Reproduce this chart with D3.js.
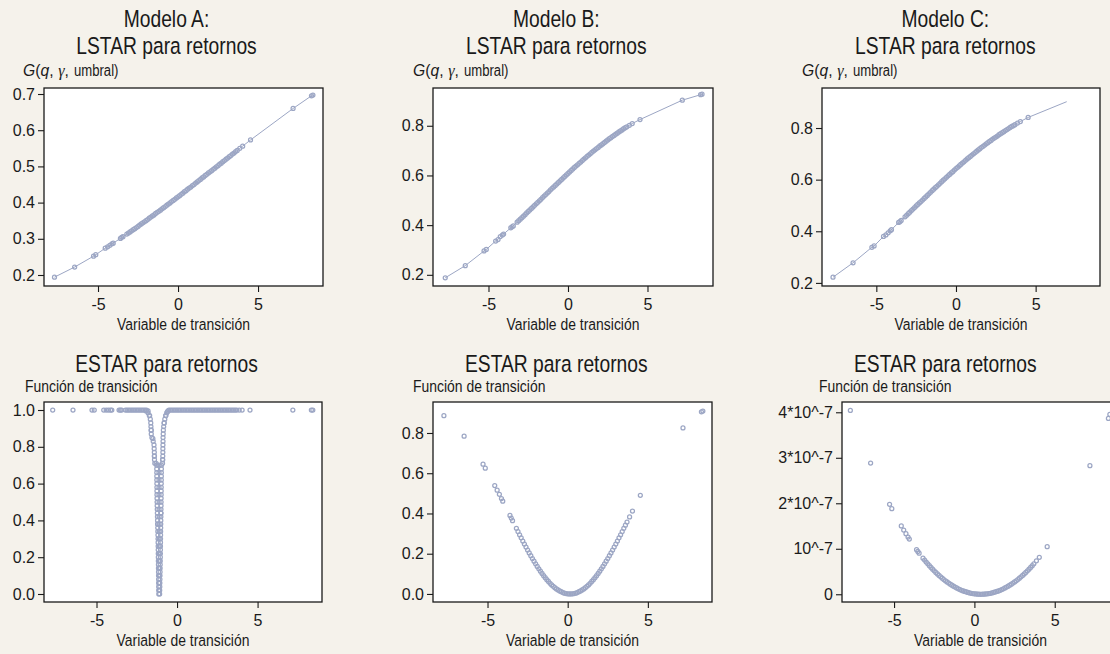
<!DOCTYPE html>
<html>
<head>
<meta charset="utf-8">
<script src="https://cdn.jsdelivr.net/npm/d3@7"></script>
<style>
  html, body { margin: 0; padding: 0; background: #f5f2eb; }
  svg { display: block; }
</style>
</head>
<body>
<div id="grafico"></div>
<script>
// Variable de transición: observaciones comunes a los tres modelos
const transicion = [
  -7.72, -6.46, -5.28, -5.14, -4.55, -4.40, -4.26, -4.13, -4.05, -3.60, -3.52, -3.44,
  -3.2, -3.1, -3.0, -2.9, -2.8, -2.7, -2.6, -2.5, -2.4, -2.3,
  -2.2, -2.1, -2.0, -1.9, -1.8, -1.7, -1.6, -1.5, -1.4, -1.3,
  -1.2, -1.1, -1.0, -0.9, -0.8, -0.7, -0.6, -0.5, -0.4, -0.3,
  -0.2, -0.1, 0.0, 0.1, 0.2, 0.3, 0.4, 0.5, 0.6, 0.7,
  0.8, 0.9, 1.0, 1.1, 1.2, 1.3, 1.4, 1.5, 1.6, 1.7,
  1.8, 1.9, 2.0, 2.1, 2.2, 2.3, 2.4, 2.5, 2.6, 2.7,
  2.8, 2.9, 3.0, 3.1, 3.2, 3.3, 3.4, 3.5, 3.6, 3.7,
  3.86, 4.04, 4.53, 7.19, 8.34, 8.43
];

// LSTAR: G(q, gamma, umbral)
const lstarA = [
  0.194, 0.222, 0.252, 0.256, 0.274, 0.278, 0.282, 0.286, 0.288, 0.301, 0.304, 0.306,
  0.313, 0.316, 0.319, 0.322, 0.325, 0.328, 0.331, 0.334, 0.338, 0.341,
  0.344, 0.347, 0.350, 0.353, 0.357, 0.360, 0.363, 0.366, 0.370, 0.373,
  0.376, 0.379, 0.383, 0.386, 0.389, 0.393, 0.396, 0.399, 0.403, 0.406,
  0.409, 0.413, 0.416, 0.419, 0.423, 0.426, 0.430, 0.433, 0.437, 0.440,
  0.443, 0.447, 0.450, 0.454, 0.457, 0.461, 0.464, 0.468, 0.471, 0.475,
  0.478, 0.482, 0.485, 0.488, 0.492, 0.495, 0.499, 0.502, 0.506, 0.509,
  0.513, 0.516, 0.520, 0.523, 0.527, 0.530, 0.534, 0.537, 0.541, 0.544,
  0.550, 0.556, 0.573, 0.660, 0.695, 0.697
];
const lstarB = [
  0.188, 0.237, 0.296, 0.302, 0.336, 0.342, 0.354, 0.360, 0.364, 0.389, 0.393, 0.397,
  0.412, 0.418, 0.424, 0.430, 0.436, 0.442, 0.449, 0.455, 0.461, 0.467,
  0.473, 0.480, 0.486, 0.492, 0.498, 0.504, 0.511, 0.517, 0.523, 0.529,
  0.535, 0.542, 0.548, 0.554, 0.560, 0.566, 0.572, 0.578, 0.584, 0.590,
  0.596, 0.602, 0.608, 0.614, 0.620, 0.626, 0.632, 0.638, 0.643, 0.649,
  0.654, 0.660, 0.666, 0.671, 0.677, 0.682, 0.687, 0.693, 0.698, 0.703,
  0.708, 0.713, 0.719, 0.723, 0.728, 0.733, 0.738, 0.743, 0.748, 0.752,
  0.757, 0.761, 0.766, 0.770, 0.775, 0.779, 0.783, 0.788, 0.792, 0.796,
  0.802, 0.809, 0.825, 0.903, 0.925, 0.927
];
const lstarC = [
  0.222, 0.278, 0.338, 0.343, 0.380, 0.386, 0.394, 0.402, 0.406, 0.434, 0.437, 0.442,
  0.456, 0.462, 0.468, 0.474, 0.480, 0.486, 0.492, 0.498, 0.504, 0.510,
  0.515, 0.521, 0.527, 0.533, 0.539, 0.545, 0.551, 0.557, 0.563, 0.569,
  0.574, 0.580, 0.586, 0.592, 0.598, 0.603, 0.609, 0.615, 0.620, 0.626,
  0.631, 0.637, 0.643, 0.648, 0.653, 0.659, 0.664, 0.669, 0.675, 0.680,
  0.685, 0.690, 0.695, 0.700, 0.705, 0.710, 0.715, 0.720, 0.725, 0.729,
  0.734, 0.739, 0.743, 0.748, 0.752, 0.757, 0.761, 0.765, 0.769, 0.774,
  0.778, 0.782, 0.786, 0.790, 0.794, 0.798, 0.802, 0.806, 0.809, 0.813,
  0.819, 0.825, 0.841, null, null, null
];
// la línea del modelo C termina sin marcador
const finLineaC = [6.95, 0.902];

// ESTAR: función de transición
const estarA = [
  1, 1, 1, 1, 1, 1, 1, 1, 1, 1, 1, 1,
  1, 1, 1, 1, 1, 1, 1, 1, 1, 1,
  1, 1, 1, 0.999, 0.995, 0.97, 0.89, 0.845, 0.75, 0.71,
  0.38, 0.02, 0.44, 0.73, 0.93, 0.97, 0.99, 1, 1, 1,
  1, 1, 1, 1, 1, 1, 1, 1, 1, 1,
  1, 1, 1, 1, 1, 1, 1, 1, 1, 1,
  1, 1, 1, 1, 1, 1, 1, 1, 1, 1,
  1, 1, 1, 1, 1, 1, 1, 1, 1, 1,
  1, 1, 1, 1, 1, 1
];
// observaciones adicionales en la caída del modelo A: [valor, q izquierda, q centro, q derecha]
const caidaA = [
  [0.995, -1.92, null, -0.56], [0.985, -1.80, null, -0.64], [0.97, -1.72, null, -0.70],
  [0.95, -1.66, null, -0.76], [0.93, -1.63, null, -0.80], [0.91, -1.62, null, -0.83],
  [0.89, -1.61, null, -0.85], [0.87, -1.60, null, -0.86], [0.85, -1.56, null, -0.87],
  [0.83, -1.48, null, -0.87], [0.81, -1.43, null, -0.875], [0.79, -1.42, null, -0.88],
  [0.77, -1.41, null, -0.88], [0.75, -1.41, null, -0.885], [0.73, -1.40, null, -0.89],
  [0.71, -1.38, null, -0.90],
  [0.70, -1.26, -1.12, -0.97], [0.68, -1.26, null, -0.972], [0.66, -1.258, -1.12, -0.974],
  [0.64, -1.256, null, -0.976], [0.62, -1.254, -1.12, -0.978], [0.60, -1.252, null, -0.98],
  [0.58, -1.25, -1.12, -0.982], [0.56, -1.248, null, -0.984], [0.54, -1.246, -1.12, -0.986],
  [0.52, -1.243, null, -0.988], [0.50, -1.24, -1.115, -0.99], [0.48, -1.234, null, -0.993],
  [0.46, -1.228, -1.115, -0.997], [0.44, -1.222, null, -1.0], [0.42, -1.216, -1.11, -1.004],
  [0.40, -1.21, null, -1.008], [0.38, -1.204, -1.11, -1.011], [0.36, -1.198, null, -1.014],
  [0.34, -1.192, -1.105, -1.018], [0.32, -1.186, null, -1.021], [0.30, -1.18, -1.105, -1.024],
  [0.28, -1.176, null, -1.027], [0.26, -1.172, -1.10, -1.029], [0.24, -1.17, null, -1.03],
  [0.22, -1.166, -1.10, -1.034], [0.20, -1.163, null, -1.038], [0.18, -1.16, -1.10, -1.042],
  [0.16, -1.157, null, -1.046], [0.14, -1.154, -1.10, -1.05], [0.12, -1.151, null, -1.054],
  [0.10, -1.148, -1.10, -1.058], [0.08, -1.145, null, -1.062], [0.06, -1.142, -1.105, -1.066],
  [0.04, -1.139, null, -1.07], [0.02, -1.136, -1.105, -1.075], [0.00, -1.133, null, -1.08]
];
const estarB = [
  0.886, 0.784, 0.645, 0.625, 0.539, 0.516, 0.495, 0.474, 0.461, 0.390, 0.377, 0.364,
  0.326, 0.310, 0.294, 0.279, 0.263, 0.248, 0.233, 0.218, 0.204, 0.190,
  0.176, 0.163, 0.150, 0.137, 0.125, 0.113, 0.102, 0.091, 0.081, 0.071,
  0.062, 0.053, 0.045, 0.038, 0.031, 0.025, 0.020, 0.015, 0.011, 0.007,
  0.004, 0.002, 0.001, 0.000, 0.000, 0.001, 0.002, 0.004, 0.007, 0.011,
  0.015, 0.020, 0.025, 0.031, 0.038, 0.045, 0.053, 0.062, 0.071, 0.081,
  0.091, 0.102, 0.113, 0.125, 0.137, 0.150, 0.163, 0.176, 0.190, 0.204,
  0.218, 0.233, 0.248, 0.263, 0.279, 0.294, 0.310, 0.326, 0.342, 0.357,
  0.383, 0.412, 0.490, 0.825, 0.905, 0.909
];
// modelo C en unidades de 10^-7
const estarC = [
  4.04, 2.885, 1.978, 1.881, 1.502, 1.412, 1.331, 1.258, 1.214, 0.981, 0.942, 0.904,
  0.794, 0.751, 0.709, 0.668, 0.628, 0.589, 0.552, 0.516, 0.481, 0.447,
  0.414, 0.383, 0.353, 0.324, 0.297, 0.270, 0.245, 0.221, 0.199, 0.177,
  0.157, 0.138, 0.120, 0.104, 0.088, 0.074, 0.061, 0.050, 0.039, 0.030,
  0.022, 0.015, 0.010, 0.006, 0.002, 0.001, 0.000, 0.001, 0.002, 0.006,
  0.010, 0.015, 0.022, 0.030, 0.039, 0.050, 0.061, 0.074, 0.088, 0.104,
  0.120, 0.138, 0.157, 0.177, 0.199, 0.221, 0.245, 0.270, 0.297, 0.324,
  0.353, 0.383, 0.414, 0.447, 0.481, 0.516, 0.552, 0.589, 0.628, 0.668,
  0.734, 0.812, 1.046, 2.826, 3.865, 3.953
];

// Ticks
const ticksX      = [-5, 0, 5];
const ticksLstarA = [0.2, 0.3, 0.4, 0.5, 0.6, 0.7];
const ticksLstarB = [0.2, 0.4, 0.6, 0.8];
const ticksLstarC = [0.2, 0.4, 0.6, 0.8];
const ticksEstarA = [0.0, 0.2, 0.4, 0.6, 0.8, 1.0];
const ticksEstarB = [0.0, 0.2, 0.4, 0.6, 0.8];
const ticksEstarC = [0, 1e-7, 2e-7, 3e-7, 4e-7];
const etiquetasEstarC = ['0', '10^-7', '2*10^-7', '3*10^-7', '4*10^-7'];

// -------------------------------------------------------------------------
const W = 1110, H = 654;
const COLOR  = '#9ca6c4';
const TINTA  = '#1a1a1a';
const FUENTE = "'Liberation Sans', Arial, sans-serif";
const ESTRECHO = 0.82;   // compresión horizontal (tipografía condensada)
const f1 = d3.format('.1f');

const svg = d3.select('#grafico').append('svg')
  .attr('width', W).attr('height', H)
  .attr('viewBox', `0 0 ${W} ${H}`);

svg.append('rect').attr('width', W).attr('height', H).attr('fill', '#f5f2eb');

// texto condensado: se escala en horizontal alrededor de su punto de anclaje
function rotulo(sel, x, y, size, anchor, sx = ESTRECHO) {
  return sel.append('text')
    .attr('transform', `translate(${x},${y}) scale(${sx},1)`)
    .attr('text-anchor', anchor)
    .style('font-family', FUENTE)
    .style('font-size', size + 'px')
    .attr('fill', TINTA);
}

const conEscala = (arr, k) => arr.map(v => v == null ? null : v * k);

const paneles = [
  { titulo: ['Modelo A:', 'LSTAR para retornos'], tituloX: 166.5, tituloY: [27, 54],
    eje: 'G', ejeX: 23, ejeY: 76,
    caja: [44, 323, 88, 286], xDom: [-8.375, 9.06], yDom: [0.1696, 0.7166],
    yTicks: ticksLstarA, yFmt: f1, valores: lstarA, linea: true },
  { titulo: ['Modelo B:', 'LSTAR para retornos'], tituloX: 556.3, tituloY: [27, 54],
    eje: 'G', ejeX: 413, ejeY: 76,
    caja: [433, 713, 88, 286], xDom: [-8.49, 9.12], yDom: [0.155, 0.952],
    yTicks: ticksLstarB, yFmt: f1, valores: lstarB, linea: true },
  { titulo: ['Modelo C:', 'LSTAR para retornos'], tituloX: 945.3, tituloY: [27, 54],
    eje: 'G', ejeX: 802, ejeY: 76,
    caja: [822, 1100, 88, 286], xDom: [-8.41, 9.04], yDom: [0.188, 0.955],
    yTicks: ticksLstarC, yFmt: f1, valores: lstarC, linea: true, finLinea: finLineaC },
  { titulo: ['ESTAR para retornos'], tituloX: 166.5, tituloY: [371.7],
    eje: 'Función de transición', ejeX: 25, ejeY: 392,
    caja: [44, 322, 402, 602], xDom: [-8.26, 9.0], yDom: [-0.0435, 1.0435],
    yTicks: ticksEstarA, yFmt: f1, valores: estarA, extra: caidaA },
  { titulo: ['ESTAR para retornos'], tituloX: 556.3, tituloY: [371.7],
    eje: 'Función de transición', ejeX: 413, ejeY: 392,
    caja: [433, 712, 402, 602], xDom: [-8.4, 9.0], yDom: [-0.04, 0.954],
    yTicks: ticksEstarB, yFmt: f1, valores: estarB },
  { titulo: ['ESTAR para retornos'], tituloX: 945.3, tituloY: [371.7],
    eje: 'Función de transición', ejeX: 819, ejeY: 392,
    caja: [842, 1119, 402, 602], xDom: [-8.24, 9.0], yDom: [-0.17e-7, 4.226e-7],
    yTicks: ticksEstarC, yFmt: (d, i) => etiquetasEstarC[i], valores: conEscala(estarC, 1e-7) }
];

paneles.forEach(p => {
  const [x0, x1, y0, y1] = p.caja;
  const x = d3.scaleLinear().domain(p.xDom).range([x0, x1]);
  const y = d3.scaleLinear().domain(p.yDom).range([y1, y0]);
  const g = svg.append('g');

  // títulos
  p.titulo.forEach((t, i) => {
    rotulo(g, p.tituloX, p.tituloY[i], 23.5, 'middle').text(t);
  });

  // etiqueta del eje vertical
  if (p.eje === 'G') {
    // parte matemática casi sin comprimir, "umbral)" condensado
    const m = rotulo(g, p.ejeX, p.ejeY, 16.5, 'start', 0.95);
    m.append('tspan').style('font-style', 'italic').text('G');
    m.append('tspan').text('(');
    m.append('tspan').style('font-style', 'italic').text('q');
    m.append('tspan').text(',');
    m.append('tspan').attr('dx', 5)
      .style('font-family', "'Liberation Serif', serif")
      .style('font-style', 'italic').style('font-size', '17px').text('γ');
    m.append('tspan').text(',');
    const w = m.node().getBBox().width * 0.95;
    rotulo(g, p.ejeX + w + 5, p.ejeY, 16, 'start').text('umbral)');
  } else {
    rotulo(g, p.ejeX, p.ejeY, 17, 'start').text(p.eje);
  }

  // fondo del área de datos
  g.append('rect')
    .attr('x', x0).attr('y', y0)
    .attr('width', x1 - x0).attr('height', y1 - y0)
    .attr('fill', '#ffffff');

  // datos
  const pts = transicion.map((q, i) => ({ x: q, y: p.valores[i] }))
    .filter(d => d.y != null);
  if (p.extra) {
    p.extra.forEach(([v, ...qs]) => {
      qs.forEach(q => { if (q != null) pts.push({ x: q, y: v }); });
    });
  }

  if (p.linea) {
    const lp = pts.slice();
    if (p.finLinea) lp.push({ x: p.finLinea[0], y: p.finLinea[1] });
    g.append('path')
      .datum(lp)
      .attr('fill', 'none')
      .attr('stroke', COLOR)
      .attr('stroke-width', 1)
      .attr('d', d3.line().x(d => x(d.x)).y(d => y(d.y)));
  }

  g.append('g')
    .selectAll('circle')
    .data(pts)
    .join('circle')
    .attr('cx', d => x(d.x))
    .attr('cy', d => y(d.y))
    .attr('r', 2.0)
    .attr('fill', 'none')
    .attr('stroke', COLOR)
    .attr('stroke-width', 1.25);

  // marco
  g.append('rect')
    .attr('x', x0).attr('y', y0)
    .attr('width', x1 - x0).attr('height', y1 - y0)
    .attr('fill', 'none')
    .attr('stroke', TINTA)
    .attr('stroke-width', 1.3);

  // ejes
  const ax = g.append('g')
    .attr('transform', `translate(0,${y1})`)
    .call(d3.axisBottom(x).tickValues(ticksX).tickSize(6).tickPadding(7).tickFormat(d3.format('d')));
  const ay = g.append('g')
    .attr('transform', `translate(${x0},0)`)
    .call(d3.axisLeft(y).tickValues(p.yTicks).tickSize(6).tickPadding(3).tickFormat(p.yFmt));

  [ax, ay].forEach(a => {
    a.select('.domain').remove();
    a.selectAll('.tick line').attr('stroke', TINTA).attr('stroke-width', 1.1);
    a.selectAll('.tick text')
      .attr('fill', TINTA)
      .style('font-family', FUENTE)
      .style('font-size', '16px');
  });
  ax.selectAll('.tick text').text(d => d < 0 ? '-' + Math.abs(d) : d);

  // etiqueta del eje horizontal
  rotulo(g, (x0 + x1) / 2, y1 + 44, 17, 'middle').text('Variable de transición');
});
</script>
</body>
</html>
